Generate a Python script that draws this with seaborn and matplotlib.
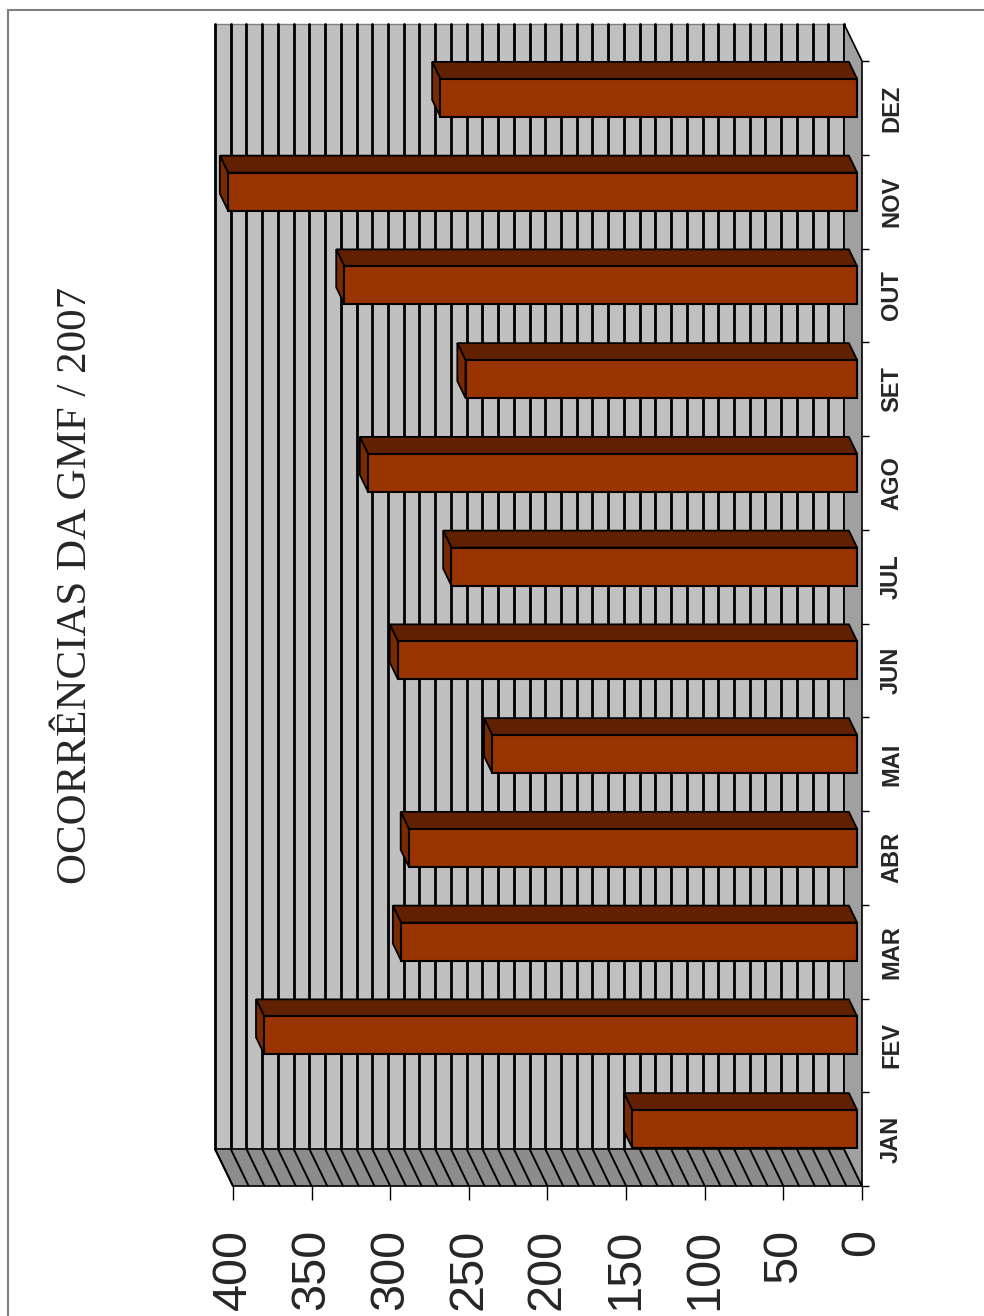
import numpy as np
import matplotlib
matplotlib.use("Agg")
import matplotlib.pyplot as plt
from matplotlib.patches import Polygon, Rectangle
import seaborn as sns

# dados
meses = ["JAN", "FEV", "MAR", "ABR", "MAI", "JUN", "JUL", "AGO", "SET", "OUT", "NOV", "DEZ"]
ocorrencias = [143, 377, 290, 285, 232, 292, 258, 311, 249, 326, 400, 265]
ticks_valor = [0, 50, 100, 150, 200, 250, 300, 350, 400]
titulo = "OCORRÊNCIAS DA GMF / 2007"

sns.set_style("white")
plt.rcParams["font.family"] = ["Liberation Sans", "DejaVu Sans"]

fig = plt.figure(figsize=(9.84, 13.16), dpi=100)
ax = fig.add_axes([215 / 984, 1 - 1186 / 1316, 647 / 984, 1162 / 1316])

# "profundidade" do efeito 3D, em unidades de dados
DX, DY = 11.4, 0.395
F, B = 0.27, 0.73
VMAX = 400
n = len(meses)

# parede do fundo + linhas de grade
ax.add_patch(Rectangle((DX, -0.5 + DY), VMAX, n, fc="#c0c0c0", ec="#808080", lw=1, zorder=0, clip_on=False))
for v in range(0, VMAX + 1, 10):
    ax.plot([v + DX, v + DX], [-0.5 + DY, n - 0.5 + DY], color="black", lw=2.0, zorder=1, clip_on=False)

# parede de baixo (com linhas inclinadas)
ax.add_patch(Polygon([(0, -0.5), (VMAX, -0.5), (VMAX + DX, -0.5 + DY), (DX, -0.5 + DY)],
                     closed=True, fc="#8c8c8c", ec="black", lw=1.2, zorder=1, clip_on=False))
for v in range(0, VMAX + 1, 10):
    ax.plot([v, v + DX], [-0.5, -0.5 + DY], color="black", lw=1.4, zorder=1.5, clip_on=False)

# "chão" do lado direito
ax.add_patch(Polygon([(0, -0.5), (0, n - 0.5), (DX, n - 0.5 + DY), (DX, -0.5 + DY)],
                     closed=True, fc="#a0a0a0", ec="black", lw=1.2, zorder=1.6, clip_on=False))

# barras
sns.barplot(x=ocorrencias, y=meses, order=meses, orient="h", color="#993300", saturation=1,
            width=0.405, edgecolor="black", linewidth=1.5, ax=ax, zorder=3)

d = B - F
for bar in ax.containers[0]:
    x0, w = bar.get_x(), bar.get_width()
    y0, h = bar.get_y(), bar.get_height()
    xf0, xf1 = x0 + F * DX, x0 + w + F * DX
    yb, yt = y0 + F * DY, y0 + h + F * DY
    bar.set_x(xf0)
    bar.set_y(yb)
    bar.set_clip_on(False)
    topo = [(xf0, yt), (xf1, yt), (xf1 + d * DX, yt + d * DY), (xf0 + d * DX, yt + d * DY)]
    ax.add_patch(Polygon(topo, closed=True, fc="#612000", ec="black", lw=1.3, zorder=2.9, clip_on=False))
    ponta = [(xf1, yb), (xf1, yt), (xf1 + d * DX, yt + d * DY), (xf1 + d * DX, yb + d * DY)]
    ax.add_patch(Polygon(ponta, closed=True, fc="#7a2a00", ec="black", lw=1.3, zorder=2.9, clip_on=False))

ax.set_xlim(VMAX + DX, 0)
ax.set_ylim(-0.5, n - 0.5 + DY)
ax.set_xlabel("")
ax.set_ylabel("")
ax.set_facecolor("none")
for s in ax.spines.values():
    s.set_visible(False)

# eixo de valores
ax.set_xticks(ticks_valor)
ax.set_xticklabels([str(t) for t in ticks_valor])
ax.tick_params(axis="x", bottom=True, direction="out", length=10, width=1, color="black",
               pad=21, labelsize=35, labelrotation=90)

# eixo de categorias (lado direito)
ax.yaxis.tick_right()
ax.set_yticks(range(n))
ax.set_yticklabels(meses, rotation=90, va="center", fontsize=17, fontweight="bold")
ax.set_yticks(np.arange(-0.5, n, 1), minor=True)
ax.tick_params(axis="y", which="major", length=0, pad=13, right=True, left=False)
ax.tick_params(axis="y", which="minor", length=5, width=1, color="black", right=True, left=False, direction="out")

# titulo
fig.text(0.0772, 0.5555, titulo, rotation=90, ha="center", va="center",
         fontsize=31, family=["Liberation Serif", "DejaVu Serif"])

# moldura
fig.add_artist(Rectangle((8 / 984, -0.05), 1.1, 1 - 10 / 1316 + 0.05, transform=fig.transFigure,
                         fill=False, ec="#7f7f7f", lw=1.5))

fig.savefig("out.png", dpi=100)
